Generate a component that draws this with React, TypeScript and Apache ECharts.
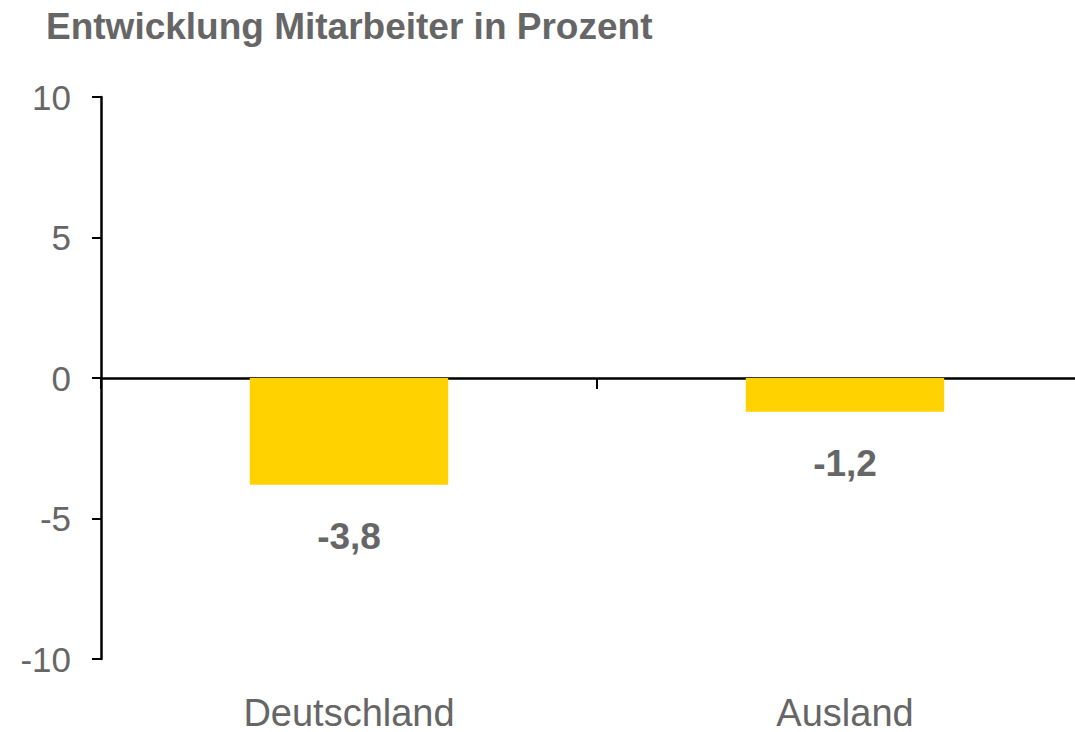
import React, { useEffect, useRef } from "react";
import * as echarts from "echarts";

const categories = ["Deutschland", "Ausland"];
const values = [-3.8, -1.2];
const yTicks = { min: -10, max: 10, interval: 5 };
const titleText = "Entwicklung Mitarbeiter in Prozent";

const GRAY = "#666666";
const FONT = "'Liberation Sans', Arial, sans-serif";

export default function App() {
  const ref = useRef<HTMLDivElement>(null);
  useEffect(() => {
    document.body.style.margin = "0";
    const chart = echarts.init(ref.current!, null, { renderer: "svg" });
    chart.setOption({
      animation: false,
      backgroundColor: "#ffffff",
      title: {
        text: titleText,
        left: 41,
        top: 3,
        textStyle: { color: GRAY, fontSize: 37, fontWeight: "bold", fontFamily: FONT },
      },
      grid: { left: 101, right: 0, top: 97, bottom: 70, containLabel: false },
      xAxis: [
        {
          type: "category",
          data: categories,
          position: "bottom",
          axisLine: { show: false, onZero: false },
          axisTick: { show: false },
          axisLabel: { color: GRAY, fontSize: 38, lineHeight: 32, fontFamily: FONT, margin: 38 },
        },
        {
          type: "category",
          data: categories,
          position: "bottom",
          axisLine: { show: true, onZero: true, lineStyle: { color: "#000", width: 2.5 } },
          axisTick: { show: true, interval: 0, length: 11, lineStyle: { color: "#000", width: 2 } },
          axisLabel: { show: false },
        },
      ],
      yAxis: {
        type: "value",
        min: yTicks.min,
        max: yTicks.max,
        interval: yTicks.interval,
        axisLine: { show: true, lineStyle: { color: "#000", width: 2.5 } },
        axisTick: { show: true, length: 9, lineStyle: { color: "#000", width: 2 } },
        splitLine: { show: false },
        axisLabel: { color: GRAY, fontSize: 35, fontFamily: FONT, margin: 30 },
      },
      series: [
        {
          type: "bar",
          xAxisIndex: 0,
          data: values,
          barWidth: "40%",
          itemStyle: { color: "#FFD200" },
          label: {
            show: true,
            position: "bottom",
            distance: 33,
            color: GRAY,
            fontSize: 37,
            fontWeight: "bold",
            fontFamily: FONT,
            formatter: (p: any) => String(p.value).replace(".", ","),
          },
        },
      ],
    });
    return () => chart.dispose();
  }, []);
  return (
    <div style={{ position: "fixed", left: 0, top: 0, width: 1075, height: 732, overflow: "hidden" }}>
      <div ref={ref} style={{ width: 1093, height: 732 }} />
    </div>
  );
}
